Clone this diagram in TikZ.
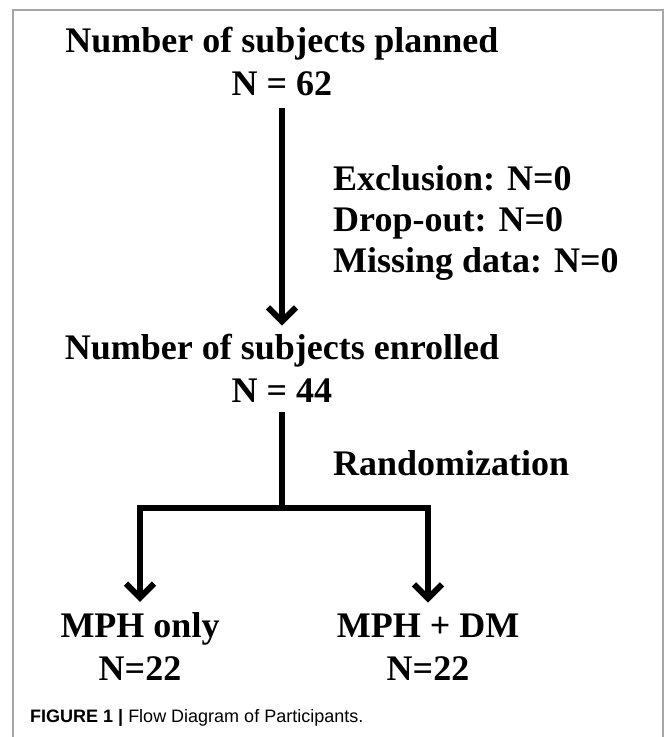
\documentclass[tikz,border=0pt]{standalone}
\usepackage{fontspec}
\setmainfont{Liberation Serif}
\newfontfamily\capfont{Liberation Sans}
\usetikzlibrary{arrows.meta,positioning}

\begin{document}
\begin{tikzpicture}[x=1pt,y=-1pt]
  \tikzset{flow text/.style={font=\bfseries\fontsize{36}{43}\selectfont,align=center,inner sep=0pt},
    side text/.style={flow text,align=left,font=\bfseries\fontsize{36}{41}\selectfont},
    flow line/.style={line width=6pt,line join=miter},
    flow arrow/.style={flow line,-{Straight Barb[length=14pt,width=28pt]}}}

  \useasboundingbox (0,0) rectangle (665,737);
  \draw[black!35,line width=1.5pt] (13,737) -- (13,10) -- (663,10) -- (663,737);

  \node[flow text] (planned) at (282,61) {Number of subjects planned\\N = 62};
  \node[flow text] (enrolled) at (282,368) {Number of subjects enrolled\\N = 44};
  \node[side text,anchor=west] (excl) at (333,223) {Exclusion: N=0\\Drop-out: N=0\\Missing data: N=0};
  \node[side text,anchor=west] (rand) at (333,463) {Randomization};
  \node[flow text] (mphonly) at (140,647) {MPH only\\N=22};
  \node[flow text] (mphdm) at (428,647) {MPH + DM\\N=22};
  \node[anchor=west,inner sep=0pt,font=\capfont\fontsize{18}{20}\selectfont] (caption) at (30,718)
    {\textbf{FIGURE 1 |} Flow Diagram of Participants.};

  \coordinate (split) at (enrolled.south |- 0,508);
  \draw[flow arrow,shorten <=12pt,shorten >=8pt] (planned.south) -- (planned.south |- enrolled.north);
  \draw[flow line,shorten <=10pt] (enrolled.south) -- (split);
  \draw[flow arrow,shorten >=11pt] (split) -| (mphonly.north);
  \draw[flow arrow,shorten >=11pt] (split) -| (mphdm.north);
\end{tikzpicture}
\end{document}
